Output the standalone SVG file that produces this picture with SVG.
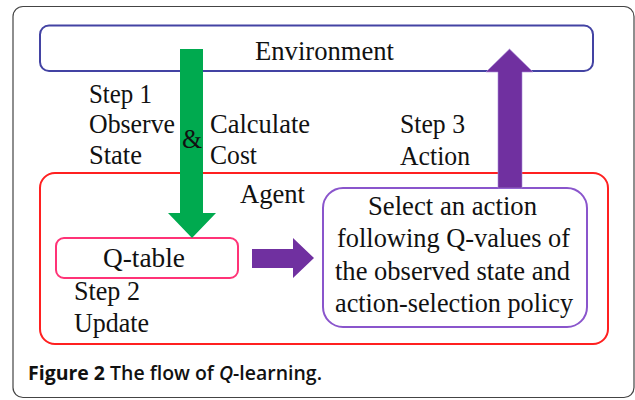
<svg xmlns="http://www.w3.org/2000/svg" width="635" height="400" viewBox="0 0 635 400">
<style>
.t{font-family:"Liberation Serif","Times New Roman",serif;font-size:26.5px;fill:#111}
.c{font-family:"Open Sans","Noto Sans","Liberation Sans",sans-serif;font-size:19.5px;fill:#111;font-weight:600}
.box{fill:none;stroke-width:2}
</style>
<rect x="13" y="6.5" width="621" height="391" rx="10" fill="#fff" stroke="#444" stroke-width="1.2"/>
<g id="environment">
<rect class="box" x="40" y="25.5" width="553" height="45.5" rx="9" stroke="#4343a3"/>
<text class="t" x="255" y="60" textLength="139" lengthAdjust="spacingAndGlyphs">Environment</text>
</g>
<g id="agent">
<rect class="box" x="40" y="173" width="568" height="171" rx="15" stroke="#ff2020"/>
<text class="t" x="240" y="203" textLength="65" lengthAdjust="spacingAndGlyphs">Agent</text>
</g>
<g id="qtable">
<rect class="box" x="56" y="238" width="182" height="40" rx="8" stroke="#ff3377"/>
<text class="t" x="103" y="267" textLength="82" lengthAdjust="spacingAndGlyphs">Q-table</text>
</g>
<g id="select">
<rect class="box" x="323" y="188" width="264" height="139" rx="20" stroke="#8a55cc"/>
<text class="t" x="368" y="215" textLength="169" lengthAdjust="spacingAndGlyphs">Select an action</text>
<text class="t" x="337" y="247" textLength="233" lengthAdjust="spacingAndGlyphs">following Q-values of</text>
<text class="t" x="335" y="280" textLength="235" lengthAdjust="spacingAndGlyphs">the observed state and</text>
<text class="t" x="335" y="312" textLength="238" lengthAdjust="spacingAndGlyphs">action-selection policy</text>
</g>
<g id="connectors">
<polygon id="arrow-observe" points="180,49 203,49 203,213 216,213 192,238 168,213 180,213" fill="#00aa4f"/>
<polygon id="arrow-action" points="498,188 498,72 486,72 509.5,49 533,72 522,72 522,188" fill="#7030a0" stroke="#a98ad8" stroke-width="0.6"/>
<polygon id="arrow-select" points="252,249 293,249 293,238 314,258 293,278 293,268 252,268" fill="#7030a0"/>
</g>
<g id="labels">
<text class="t" x="89" y="103" textLength="63" lengthAdjust="spacingAndGlyphs">Step 1</text>
<text class="t" x="89" y="133" textLength="86" lengthAdjust="spacingAndGlyphs">Observe</text>
<text class="t" x="89" y="164" textLength="53" lengthAdjust="spacingAndGlyphs">State</text>
<text class="t" x="182" y="148" textLength="20" lengthAdjust="spacingAndGlyphs">&amp;</text>
<text class="t" x="210" y="133" textLength="100" lengthAdjust="spacingAndGlyphs">Calculate</text>
<text class="t" x="210" y="164" textLength="47" lengthAdjust="spacingAndGlyphs">Cost</text>
<text class="t" x="400" y="133" textLength="65" lengthAdjust="spacingAndGlyphs">Step 3</text>
<text class="t" x="400" y="165" textLength="70" lengthAdjust="spacingAndGlyphs">Action</text>
<text class="t" x="74" y="300" textLength="66" lengthAdjust="spacingAndGlyphs">Step 2</text>
<text class="t" x="74" y="332" textLength="75" lengthAdjust="spacingAndGlyphs">Update</text>
</g>
<text class="c" x="28" y="380" textLength="294" lengthAdjust="spacingAndGlyphs"><tspan font-weight="bold">Figure 2</tspan> The flow of <tspan font-style="italic">Q</tspan>-learning.</text>
</svg>
